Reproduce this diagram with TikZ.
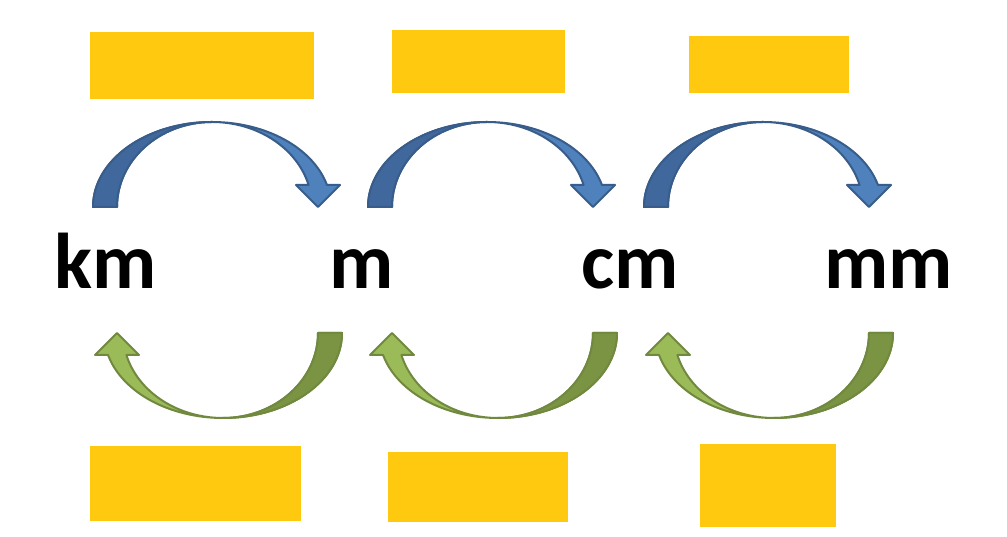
\documentclass[tikz,border=0pt]{standalone}
\usepackage{fontspec}
\setmainfont{Carlito}
\usepackage{tikz}
\usetikzlibrary{positioning}

\definecolor{boxyellow}{RGB}{254,201,14}
\definecolor{blueface}{RGB}{79,129,189}
\definecolor{blueback}{RGB}{64,104,156}
\definecolor{blueline}{RGB}{56,93,138}
\definecolor{greenface}{RGB}{155,187,89}
\definecolor{greenback}{RGB}{122,148,67}
\definecolor{greenline}{RGB}{113,137,63}

\begin{document}
\begin{tikzpicture}[x=1pt,y=1pt,
        unit/.style={font=\fontsize{79}{86}\selectfont\bfseries, anchor=base, inner sep=0pt},
        answer/.style={fill=boxyellow, inner sep=0pt},
        pics/unitarrow/.style n args={3}{code={
            \filldraw[fill=#1, draw=#3, line width=2pt, line join=round]
                (-119,0) arc[start angle=180, end angle=15, x radius=119pt, y radius=85pt]
                -- (128,22) -- (106,0) -- (84,22) -- (96.6,22)
                arc[start angle=15, end angle=90, x radius=100pt, y radius=85pt]
                arc[start angle=90, end angle=180, x radius=95pt, y radius=85pt] -- cycle;
            \filldraw[fill=#2, draw=#3, line width=2pt, line join=round]
                (-119,0) arc[start angle=180, end angle=90, x radius=119pt, y radius=85pt]
                arc[start angle=90, end angle=180, x radius=95pt, y radius=85pt] -- cycle;
        }}]
        \fill[white] (0,0) rectangle (1007,537);

        % units
        \node[unit] (km) at (106,248) {km};
        \node[unit] (m)  at (361.5,248) {m};
        \node[unit] (cm) at (630,248) {cm};
        \node[unit] (mm) at (889,248) {mm};

        % boxes above and below
        \node[answer, minimum width=224pt, minimum height=67pt] (up1) at (202,471.5) {};
        \node[answer, minimum width=173pt, minimum height=63pt] (up2) at (478.5,475.5) {};
        \node[answer, minimum width=160pt, minimum height=57pt] (up3) at (769,472.5) {};
        \node[answer, minimum width=211pt, minimum height=75pt] (down1) at (195.5,53.5) {};
        \node[answer, minimum width=180pt, minimum height=70pt] (down2) at (478,50) {};
        \node[answer, minimum width=136pt, minimum height=83pt] (down3) at (768,51.5) {};

        % arrows
        \pic at (212,330) {unitarrow={blueface}{blueback}{blueline}};
        \pic at (487,330) {unitarrow={blueface}{blueback}{blueline}};
        \pic at (763,330) {unitarrow={blueface}{blueback}{blueline}};
        \pic[rotate=180] at (223,204) {unitarrow={greenface}{greenback}{greenline}};
        \pic[rotate=180] at (498,204) {unitarrow={greenface}{greenback}{greenline}};
        \pic[rotate=180] at (774,204) {unitarrow={greenface}{greenback}{greenline}};
    \end{tikzpicture}
\end{document}
